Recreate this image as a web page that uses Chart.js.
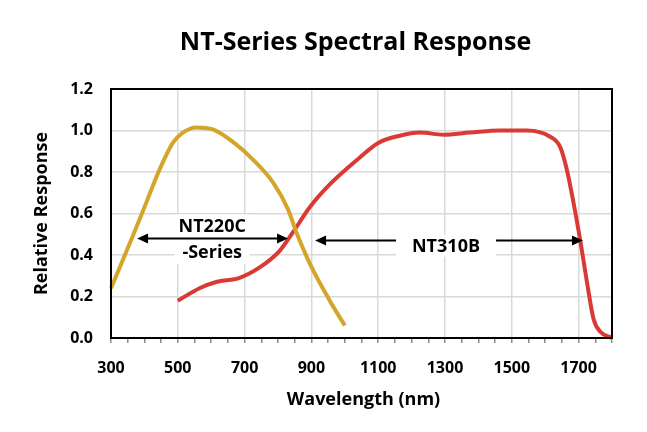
<!DOCTYPE html>
<html>
<head>
<meta charset="utf-8">
<script src="https://cdn.jsdelivr.net/npm/chart.js@4/dist/chart.umd.min.js"></script>
<style>
  html, body { margin: 0; padding: 0; background: #fff; }
  #wrap { width: 647px; height: 432px; }
</style>
</head>
<body>
<div id="wrap"><canvas id="spectral" width="647" height="432"></canvas></div>
<script>
// NT220C-Series (gold) response
const nt220Wavelength = [300, 365, 405, 445, 485, 515, 555, 605, 665, 725, 785, 830, 855, 895, 955, 1000];
const nt220Response = [0.24, 0.49, 0.65, 0.81, 0.94, 0.99, 1.015, 1.005, 0.945, 0.86, 0.75, 0.62, 0.51, 0.36, 0.18, 0.06];

// NT310B (red) response
const nt310Wavelength = [500, 565, 615, 685, 745, 805, 845, 895, 955, 1045, 1100, 1165, 1225, 1295, 1375, 1465, 1545, 1615, 1645, 1665, 1685, 1705, 1725, 1745, 1765, 1800];
const nt310Response = [0.18, 0.24, 0.27, 0.29, 0.34, 0.42, 0.51, 0.63, 0.74, 0.87, 0.94, 0.975, 0.99, 0.98, 0.99, 1.0, 1.0, 0.97, 0.92, 0.81, 0.65, 0.47, 0.27, 0.09, 0.03, 0.0];

// range arrows: [from nm, to nm, response level]
const arrowFrom = [378, 911];
const arrowTo = [830, 1713];
const arrowLevel = [0.48, 0.47];
// range labels: text lines, centre wavelength, centre response
const rangeLabels = [['NT220C', '-Series'], ['NT310B']];
const labelX = [603, 1303];
const labelY = [0.475, 0.44];

const xLabelTicks = [300, 500, 700, 900, 1100, 1300, 1500, 1700];

const FONT = '"Open Sans", "DejaVu Sans", sans-serif';
const GOLD = '#D4A52B';
const RED = '#D93A33';

function toPoints(xs, ys) {
    return xs.map((x, i) => ({ x: x, y: ys[i] }));
}

function drawHead(ctx, x, y, dir) {
    ctx.beginPath();
    ctx.moveTo(x, y);
    ctx.lineTo(x - dir * 11, y - 5);
    ctx.lineTo(x - dir * 11, y + 5);
    ctx.closePath();
    ctx.fill();
}

// background, plot border, arrows and all titles
const decorations = {
    id: 'decorations',
    beforeDraw(chart) {
        const ctx = chart.ctx;
        ctx.save();
        ctx.fillStyle = '#fff';
        ctx.fillRect(0, 0, chart.width, chart.height);
        ctx.restore();
    },
    afterDatasetsDraw(chart) {
        const ctx = chart.ctx;
        const xs = chart.scales.x, ys = chart.scales.y;
        const area = chart.chartArea;
        ctx.save();

        // arrows with their labels
        ctx.strokeStyle = '#000';
        ctx.fillStyle = '#000';
        ctx.lineWidth = 2;
        for (let i = 0; i < arrowFrom.length; i++) {
            const x1 = xs.getPixelForValue(arrowFrom[i]);
            const x2 = xs.getPixelForValue(arrowTo[i]);
            const y = ys.getPixelForValue(arrowLevel[i]);
            ctx.beginPath();
            ctx.moveTo(x1 + 8, y);
            ctx.lineTo(x2 - 8, y);
            ctx.stroke();
            drawHead(ctx, x1, y, -1);
            drawHead(ctx, x2, y, 1);
        }

        ctx.font = 'bold 18px ' + FONT;
        ctx.textAlign = 'center';
        ctx.textBaseline = 'middle';
        for (let i = 0; i < rangeLabels.length; i++) {
            const lines = rangeLabels[i];
            const cx = xs.getPixelForValue(labelX[i]);
            const cy = ys.getPixelForValue(labelY[i]);
            const lh = 26;
            if (lines.length === 1) {
                const w = ctx.measureText(lines[0]).width;
                ctx.fillStyle = '#fff';
                ctx.fillRect(cx - w / 2 - 16, cy - 12, w + 32, 22);
            }
            ctx.fillStyle = '#000';
            lines.forEach((t, k) => {
                ctx.fillText(t, cx, cy + (k - (lines.length - 1) / 2) * lh);
            });
        }

        // plot border
        ctx.strokeStyle = '#000';
        ctx.lineWidth = 2;
        ctx.strokeRect(area.left, area.top, area.right - area.left, area.bottom - area.top);

        // titles
        ctx.fillStyle = '#000';
        ctx.font = 'bold 25px ' + FONT;
        ctx.fillText('NT-Series Spectral Response', (area.left + area.right) / 2 - 6, 43);
        ctx.font = 'bold 18px ' + FONT;
        ctx.fillText('Wavelength (nm)', (area.left + area.right) / 2 + 2, 400);
        ctx.translate(42, (area.top + area.bottom) / 2);
        ctx.rotate(-Math.PI / 2);
        ctx.fillText('Relative Response', 0, 0);
        ctx.restore();
    }
};

// white box behind the NT220C label, under the arrow
const labelBoxes = {
    id: 'labelBoxes',
    beforeDatasetsDraw(chart) {
        const ctx = chart.ctx;
        const xs = chart.scales.x, ys = chart.scales.y;
        ctx.save();
        ctx.font = 'bold 18px ' + FONT;
        ctx.fillStyle = '#fff';
        const lines = rangeLabels[0];
        const w = Math.max(...lines.map(t => ctx.measureText(t).width));
        const cx = xs.getPixelForValue(labelX[0]);
        const cy = ys.getPixelForValue(labelY[0]);
        ctx.fillRect(cx - w / 2 - 4, cy - 25, w + 8, 50);
        ctx.restore();
    }
};

new Chart(document.getElementById('spectral'), {
    type: 'scatter',
    data: {
        datasets: [
            {
                label: 'NT220C-Series',
                data: toPoints(nt220Wavelength, nt220Response),
                showLine: true,
                borderColor: GOLD,
                borderWidth: 4,
                pointRadius: 0,
                cubicInterpolationMode: 'monotone',
                clip: false
            },
            {
                label: 'NT310B',
                data: toPoints(nt310Wavelength, nt310Response),
                showLine: true,
                borderColor: RED,
                borderWidth: 4,
                pointRadius: 0,
                cubicInterpolationMode: 'monotone',
                clip: false
            }
        ]
    },
    options: {
        responsive: false,
        animation: false,
        layout: { padding: { top: 89, right: 35, left: 0, bottom: 0 } },
        plugins: {
            legend: { display: false },
            title: { display: false },
            tooltip: { enabled: false }
        },
        scales: {
            x: {
                type: 'linear',
                min: 300,
                max: 1800,
                afterFit(scale) { scale.height = 94; },
                border: { display: false },
                grid: {
                    color: ctx => xLabelTicks.includes(ctx.tick.value) ? '#D9D9D9' : 'rgba(0,0,0,0)',
                    lineWidth: 1.5,
                    tickColor: '#8c8c8c',
                    tickLength: 5,
                    drawTicks: true
                },
                ticks: {
                    stepSize: 50,
                    autoSkip: false,
                    maxRotation: 0,
                    padding: 16,
                    color: '#000',
                    font: { family: FONT, size: 16, weight: 'bold' },
                    callback: v => xLabelTicks.includes(v) ? String(v) : ''
                }
            },
            y: {
                min: 0,
                max: 1.2,
                afterFit(scale) { scale.width = 111; },
                border: { display: false },
                grid: { color: '#D9D9D9', lineWidth: 1.5, drawTicks: false },
                ticks: {
                    stepSize: 0.2,
                    padding: 18,
                    color: '#000',
                    font: { family: FONT, size: 16, weight: 'bold' },
                    callback: v => v.toFixed(1)
                }
            }
        }
    },
    plugins: [labelBoxes, decorations]
});
</script>
</body>
</html>
